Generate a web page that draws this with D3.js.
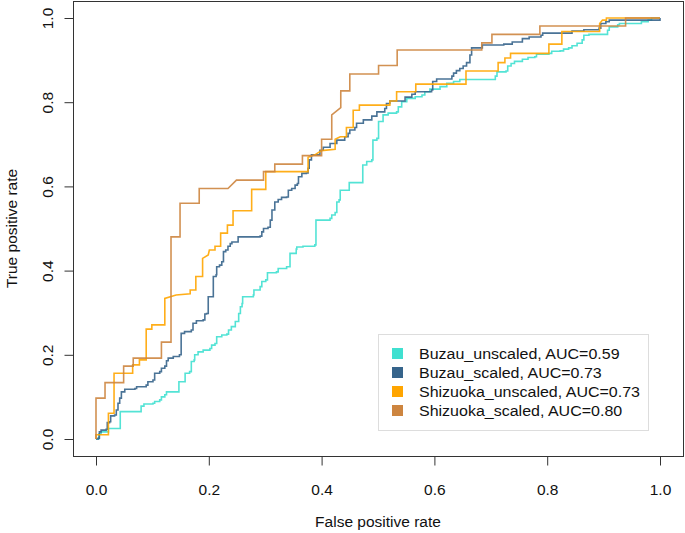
<!DOCTYPE html>
<html>
<head>
<meta charset="utf-8">
<script src="https://cdn.jsdelivr.net/npm/d3@7"></script>
<style>
  html, body { margin: 0; padding: 0; background: #fff; }
  svg { display: block; }
  text { font-family: "Liberation Sans", Arial, Helvetica, sans-serif; fill: #111; }
</style>
</head>
<body>
<svg id="chart" width="685" height="533"></svg>
<script>
// ---- data: [false positive rate, true positive rate] ----
const seriesNames = ["Buzau_unscaled", "Buzau_scaled", "Shizuoka_unscaled", "Shizuoka_scaled"];
const aucValues = ["0.59", "0.73", "0.73", "0.80"];
const seriesColors = ["#40E0D0", "#36648B", "#FFA500", "#CD853F"];
const xTicks = [0, 0.2, 0.4, 0.6, 0.8, 1.0];
const yTicks = [0, 0.2, 0.4, 0.6, 0.8, 1.0];

const buzauUnscaled = [[0,0],[0.005,0.012],[0.009,0.017],[0.021,0.017],[0.022,0.025],[0.043,0.025],[0.043,0.065],[0.077,0.065],[0.080,0.078],[0.085,0.083],[0.101,0.085],[0.104,0.089],[0.113,0.093],[0.116,0.100],[0.122,0.105],[0.125,0.112],[0.146,0.112],[0.147,0.136],[0.157,0.136],[0.158,0.156],[0.166,0.160],[0.169,0.184],[0.174,0.188],[0.175,0.200],[0.181,0.207],[0.190,0.211],[0.202,0.215],[0.205,0.223],[0.211,0.227],[0.214,0.243],[0.223,0.247],[0.232,0.249],[0.235,0.259],[0.240,0.267],[0.247,0.279],[0.253,0.298],[0.256,0.314],[0.259,0.322],[0.260,0.338],[0.279,0.342],[0.280,0.354],[0.291,0.362],[0.294,0.374],[0.301,0.378],[0.304,0.395],[0.320,0.397],[0.323,0.405],[0.338,0.409],[0.344,0.441],[0.355,0.451],[0.356,0.456],[0.367,0.458],[0.388,0.461],[0.390,0.520],[0.415,0.524],[0.418,0.532],[0.424,0.538],[0.427,0.563],[0.431,0.568],[0.433,0.591],[0.449,0.609],[0.471,0.609],[0.473,0.651],[0.480,0.659],[0.489,0.663],[0.491,0.710],[0.498,0.714],[0.501,0.754],[0.509,0.770],[0.518,0.774],[0.533,0.777],[0.536,0.789],[0.542,0.801],[0.551,0.809],[0.566,0.813],[0.578,0.817],[0.583,0.825],[0.592,0.831],[0.610,0.837],[0.622,0.845],[0.634,0.849],[0.645,0.854],[0.704,0.854],[0.708,0.862],[0.711,0.872],[0.727,0.874],[0.730,0.886],[0.736,0.892],[0.742,0.897],[0.756,0.902],[0.766,0.906],[0.778,0.908],[0.781,0.914],[0.803,0.916],[0.808,0.921],[0.823,0.922],[0.829,0.926],[0.838,0.929],[0.844,0.934],[0.853,0.940],[0.862,0.948],[0.865,0.959],[0.874,0.961],[0.904,0.961],[0.907,0.971],[0.910,0.979],[0.925,0.984],[0.928,0.987],[0.964,0.987],[0.967,0.991],[0.979,0.995],[0.985,1.0],[1,1]];

const buzauScaled = [[0,0],[0.004,0.002],[0.006,0.017],[0.009,0.021],[0.018,0.023],[0.020,0.039],[0.024,0.041],[0.026,0.055],[0.033,0.057],[0.036,0.069],[0.039,0.085],[0.042,0.097],[0.045,0.112],[0.051,0.118],[0.069,0.120],[0.072,0.124],[0.089,0.128],[0.092,0.136],[0.101,0.140],[0.104,0.156],[0.113,0.160],[0.116,0.168],[0.122,0.173],[0.125,0.186],[0.128,0.192],[0.137,0.196],[0.148,0.200],[0.151,0.251],[0.157,0.255],[0.169,0.259],[0.172,0.275],[0.178,0.281],[0.190,0.283],[0.193,0.297],[0.196,0.298],[0.199,0.338],[0.208,0.338],[0.208,0.386],[0.213,0.390],[0.214,0.409],[0.219,0.413],[0.223,0.421],[0.226,0.445],[0.230,0.449],[0.234,0.458],[0.238,0.464],[0.241,0.468],[0.252,0.480],[0.291,0.482],[0.294,0.492],[0.297,0.500],[0.305,0.503],[0.309,0.520],[0.312,0.544],[0.317,0.563],[0.323,0.569],[0.329,0.574],[0.338,0.575],[0.341,0.591],[0.347,0.595],[0.353,0.603],[0.357,0.607],[0.359,0.623],[0.365,0.631],[0.373,0.632],[0.376,0.643],[0.378,0.663],[0.382,0.675],[0.388,0.675],[0.397,0.686],[0.403,0.693],[0.409,0.693],[0.415,0.702],[0.427,0.710],[0.433,0.710],[0.441,0.718],[0.447,0.726],[0.450,0.734],[0.459,0.740],[0.462,0.750],[0.474,0.758],[0.489,0.767],[0.498,0.777],[0.507,0.777],[0.512,0.785],[0.515,0.797],[0.521,0.803],[0.539,0.803],[0.548,0.812],[0.560,0.819],[0.566,0.825],[0.586,0.825],[0.595,0.829],[0.597,0.849],[0.604,0.855],[0.625,0.855],[0.631,0.862],[0.634,0.869],[0.639,0.875],[0.645,0.880],[0.651,0.886],[0.657,0.894],[0.663,0.912],[0.666,0.929],[0.685,0.929],[0.685,0.936],[0.723,0.938],[0.738,0.943],[0.756,0.951],[0.768,0.955],[0.789,0.959],[0.792,0.964],[0.844,0.969],[0.865,0.972],[0.892,0.976],[0.895,0.987],[0.904,0.991],[0.910,0.995],[1.0,0.995],[1,1]];

const shizuokaUnscaled = [[0,0],[0,0.010],[0.022,0.010],[0.022,0.061],[0.032,0.061],[0.032,0.156],[0.065,0.156],[0.065,0.176],[0.077,0.176],[0.077,0.188],[0.089,0.188],[0.089,0.261],[0.099,0.261],[0.099,0.271],[0.122,0.271],[0.122,0.334],[0.142,0.342],[0.167,0.345],[0.167,0.354],[0.177,0.354],[0.177,0.386],[0.189,0.386],[0.189,0.429],[0.199,0.437],[0.201,0.449],[0.211,0.449],[0.211,0.458],[0.221,0.458],[0.221,0.489],[0.233,0.489],[0.233,0.508],[0.243,0.508],[0.243,0.542],[0.276,0.542],[0.276,0.593],[0.301,0.593],[0.301,0.635],[0.376,0.635],[0.376,0.669],[0.388,0.675],[0.400,0.685],[0.424,0.688],[0.424,0.712],[0.433,0.718],[0.444,0.718],[0.444,0.740],[0.456,0.740],[0.456,0.781],[0.467,0.781],[0.467,0.793],[0.521,0.793],[0.521,0.803],[0.533,0.803],[0.533,0.825],[0.567,0.825],[0.567,0.843],[0.656,0.843],[0.656,0.874],[0.713,0.874],[0.713,0.894],[0.725,0.894],[0.725,0.905],[0.735,0.905],[0.735,0.916],[0.803,0.916],[0.803,0.938],[0.826,0.938],[0.826,0.968],[0.893,0.968],[0.893,0.987],[0.898,0.995],[0.905,0.995],[0.905,1.0],[1,1]];

const shizuokaScaled = [[0,0],[0,0.097],[0.016,0.097],[0.016,0.134],[0.049,0.134],[0.049,0.173],[0.066,0.173],[0.066,0.192],[0.116,0.192],[0.116,0.230],[0.133,0.230],[0.133,0.480],[0.149,0.480],[0.149,0.560],[0.183,0.560],[0.183,0.595],[0.234,0.595],[0.249,0.615],[0.297,0.615],[0.297,0.635],[0.317,0.635],[0.317,0.653],[0.366,0.653],[0.366,0.673],[0.400,0.673],[0.400,0.712],[0.418,0.712],[0.418,0.770],[0.434,0.787],[0.434,0.827],[0.450,0.827],[0.450,0.867],[0.501,0.867],[0.501,0.887],[0.534,0.887],[0.534,0.924],[0.684,0.924],[0.684,0.941],[0.702,0.941],[0.702,0.961],[0.787,0.961],[0.787,0.981],[0.939,0.981],[0.939,1.0],[1,1]];

const seriesData = [buzauUnscaled, buzauScaled, shizuokaUnscaled, shizuokaScaled];

// ---- layout ----
const svg = d3.select("#chart");
const x = d3.scaleLinear().domain([0, 1]).range([96, 660]);
const y = d3.scaleLinear().domain([0, 1]).range([439, 18]);
const box = { left: 73.5, right: 683.5, top: 1.5, bottom: 456.5 };
const fmt = d3.format(".1f");

// curves: Buzau curves are fine staircases, Shizuoka curves include tie diagonals
const curveTypes = [d3.curveStepAfter, d3.curveStepAfter, d3.curveLinear, d3.curveLinear];
seriesData.forEach((pts, i) => {
  const line = d3.line().x(d => x(d[0])).y(d => y(d[1])).curve(curveTypes[i]);
  svg.append("path")
    .datum(pts)
    .attr("d", line)
    .attr("fill", "none")
    .attr("stroke", seriesColors[i])
    .attr("stroke-width", 1.6)
    .attr("stroke-opacity", 0.9)
    .attr("stroke-linejoin", "miter");
});

// box
svg.append("rect")
  .attr("x", box.left).attr("y", box.top)
  .attr("width", box.right - box.left).attr("height", box.bottom - box.top)
  .attr("fill", "none").attr("stroke", "#333").attr("stroke-width", 1);

// x axis
const xAxis = d3.axisBottom(x).tickValues(xTicks).tickFormat(fmt).tickSize(9).tickPadding(18).tickSizeOuter(0);
const gx = svg.append("g").attr("transform", `translate(0,${box.bottom})`).call(xAxis);
gx.select(".domain").remove();
gx.selectAll(".tick line").attr("stroke", "#333");
gx.selectAll(".tick text").attr("font-size", 15.5).attr("font-family", "Liberation Sans, Arial, sans-serif").attr("fill", "#111");

// y axis (labels parallel to the axis)
const yAxis = d3.axisLeft(y).tickValues(yTicks).tickFormat(fmt).tickSize(9).tickSizeOuter(0);
const gy = svg.append("g").attr("transform", `translate(${box.left},0)`).call(yAxis);
gy.select(".domain").remove();
gy.selectAll(".tick line").attr("stroke", "#333");
gy.selectAll(".tick text")
  .attr("x", null).attr("dy", null)
  .attr("transform", "translate(-26,0) rotate(-90)")
  .attr("text-anchor", "middle")
  .attr("dominant-baseline", "central")
  .attr("font-size", 15.5).attr("font-family", "Liberation Sans, Arial, sans-serif").attr("fill", "#111");

// axis titles
svg.append("text")
  .attr("x", (x(0) + x(1)) / 2).attr("y", 527)
  .attr("text-anchor", "middle").attr("font-size", 15.5)
  .text("False positive rate");
svg.append("text")
  .attr("transform", `translate(17,${(y(0) + y(1)) / 2}) rotate(-90)`)
  .attr("text-anchor", "middle").attr("font-size", 15.5)
  .text("True positive rate");

// legend
const lg = svg.append("g");
lg.append("rect")
  .attr("x", 378.5).attr("y", 334.5).attr("width", 270).attr("height", 96)
  .attr("fill", "#fff").attr("stroke", "#ddd").attr("stroke-width", 1);
const legendTexts = [];
seriesNames.forEach((name, i) => {
  const cy = 353.5 + i * 19;
  lg.append("rect")
    .attr("x", 392).attr("y", cy - 5.5).attr("width", 11).attr("height", 11)
    .attr("fill", seriesColors[i]);
  const t = lg.append("text")
    .attr("dominant-baseline", "central")
    .attr("font-size", 15.5)
    .text(`${name}, AUC=${aucValues[i]}`);
  legendTexts.push({ t, cy });
});
// horizontally fit so the longest entry spans ~221px, as in the reference
const maxW = d3.max(legendTexts, d => d.t.node().getComputedTextLength());
const sx = 221 / maxW;
legendTexts.forEach(d => d.t.attr("transform", `translate(419,${d.cy}) scale(${sx},1)`));
</script>
</body>
</html>
